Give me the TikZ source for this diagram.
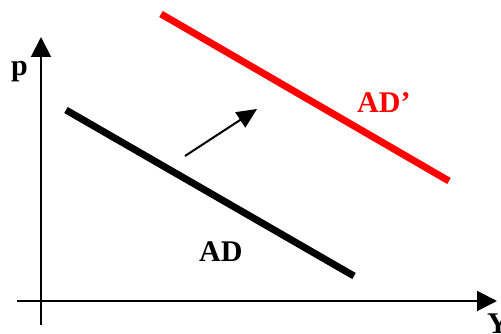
\documentclass[tikz,border=0pt]{standalone}
\usepackage{fontspec}
\setmainfont{Liberation Serif}
\usetikzlibrary{arrows.meta}
\tikzset{
  axis/.style={-{Triangle[length=20pt,width=20pt]},line width=2pt},
  demandline/.style={line width=7pt},
  shiftarrow/.style={-{Triangle[length=20pt,width=18pt]},line width=2pt},
  biglabel/.style={font=\fontsize{30}{31}\selectfont\bfseries,inner sep=0pt,anchor=base west},
}

\begin{document}
\begin{tikzpicture}[x=1pt,y=-1pt]
  \useasboundingbox (0,0) rectangle (501,334);

  %% ── Axes ──────────────────────────────────────────────────────────────────
  \coordinate (ybot) at (41,325);
  \coordinate (ytop) at (41,37);
  \coordinate (xleft) at (17,301);
  \coordinate (xright) at (497,301);
  \draw[axis] (ybot) -- (ytop);
  \draw[axis] (xleft) -- (xright);
  \node[biglabel] (plabel) at (11,76) {p};
  \node[biglabel] (ylabel) at (487,333) {Y};

  %% ── Demand curves ─────────────────────────────────────────────────────────
  \coordinate (ad1) at (66,110);
  \coordinate (ad2) at (354,276);
  \coordinate (adp1) at (161,14);
  \coordinate (adp2) at (449,181);
  \draw[demandline] (ad1) -- (ad2);
  \draw[demandline,red] (adp1) -- (adp2);
  \node[biglabel] (adlabel) at (199,261) {AD};
  \node[biglabel,text=red] (adplabel) at (357,113) {AD’};

  %% ── Shift ─────────────────────────────────────────────────────────────────
  \coordinate (shiftfrom) at (185,156);
  \coordinate (shiftto) at (257,109);
  \draw[shiftarrow] (shiftfrom) -- (shiftto);

\end{tikzpicture}
\end{document}
